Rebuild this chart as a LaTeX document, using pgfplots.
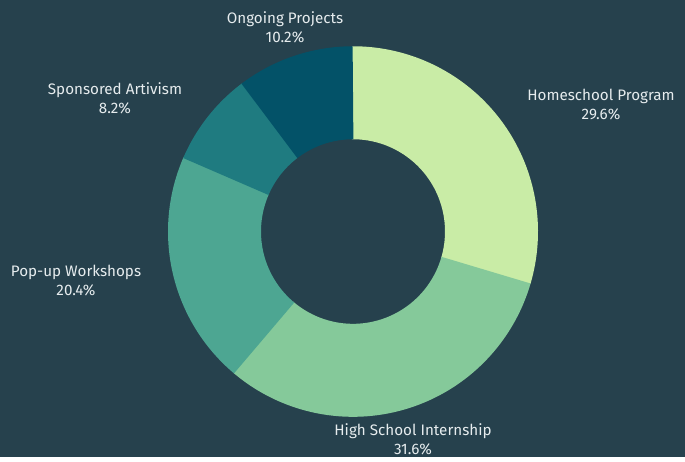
\documentclass[border=0pt]{standalone}
\usepackage{fontspec}
\setmainfont{Fira Sans}
\usepackage{pgfplots}
\pgfplotsset{compat=1.18}
\definecolor{bg}{HTML}{26414D}
\definecolor{txt}{HTML}{E6ECEE}
\definecolor{cA}{HTML}{C9ECA6}
\definecolor{cB}{HTML}{85C99A}
\definecolor{cC}{HTML}{4DA692}
\definecolor{cD}{HTML}{1F7B80}
\definecolor{cE}{HTML}{035268}

% shares in percent, clockwise from 12 o'clock
\pgfmathsetmacro\sA{29.6}
\pgfmathsetmacro\sB{31.6}
\pgfmathsetmacro\sC{20.4}
\pgfmathsetmacro\sD{8.2}
\pgfmathsetmacro\sE{10.2}
\pgfmathsetmacro\aA{90}
\pgfmathsetmacro\aB{\aA-3.6*\sA}
\pgfmathsetmacro\aC{\aB-3.6*\sB}
\pgfmathsetmacro\aD{\aC-3.6*\sC}
\pgfmathsetmacro\aE{\aD-3.6*\sD}
\pgfmathsetmacro\aF{\aE-3.6*\sE}
% small overlap so no seams show between slices
\def\ov{0.4}

\begin{document}
\begin{tikzpicture}
\fill[bg] (0,0) rectangle (342.5pt,228.5pt);
\begin{axis}[
    at={(0,0)}, anchor=south west,
    scale only axis, width=342.5pt, height=228.5pt,
    xmin=0, xmax=685, ymin=0, ymax=457,
    hide axis, clip=false,
    every axis plot/.append style={line width=46.5pt, line cap=butt, samples=90, smooth},
]
% ring of mid radius 138.5 px, centre (353,225)
\addplot[cA, domain=\aB:\aA+\ov] ({353+138.5*cos(x)}, {225+138.5*sin(x)});
\addplot[cB, domain=\aC:\aB+\ov] ({353+138.5*cos(x)}, {225+138.5*sin(x)});
\addplot[cC, domain=\aD:\aC+\ov] ({353+138.5*cos(x)}, {225+138.5*sin(x)});
\addplot[cD, domain=\aE:\aD+\ov] ({353+138.5*cos(x)}, {225+138.5*sin(x)});
\addplot[cE, domain=\aF:\aE+\ov] ({353+138.5*cos(x)}, {225+138.5*sin(x)});

\begin{scope}[every node/.style={text=txt, font=\fontsize{7.6pt}{9.6pt}\selectfont, align=center}]
\node at (axis cs:601,352) {Homeschool Program\\29.6\%};
\node at (axis cs:413,18) {High School Internship\\31.6\%};
\node at (axis cs:76,176) {Pop-up Workshops\\20.4\%};
\node at (axis cs:115,358) {Sponsored Artivism\\8.2\%};
\node at (axis cs:285,429) {Ongoing Projects\\10.2\%};
\end{scope}
\end{axis}
\end{tikzpicture}
\end{document}
